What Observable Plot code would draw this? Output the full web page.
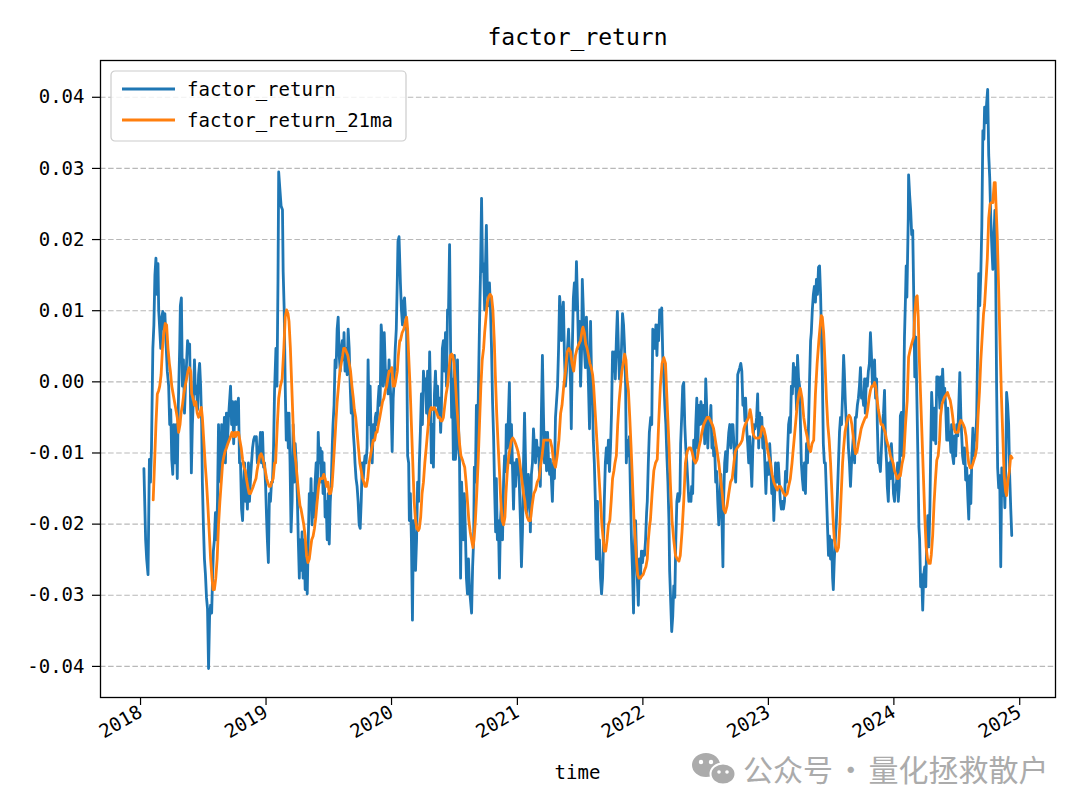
<!DOCTYPE html>
<html lang="en">
<head>
<meta charset="utf-8">
<title>factor_return</title>
<script src="https://cdn.jsdelivr.net/npm/d3@7"></script>
<script src="https://cdn.jsdelivr.net/npm/@observablehq/plot@0.6"></script>
<style>
  html, body { margin: 0; padding: 0; background: #ffffff; }
  #chart { width: 1080px; height: 810px; }
</style>
</head>
<body>
<div id="chart"></div>
<script>
// ---------- chart text ----------
const chartTitle = "factor_return";
const xAxisLabel = "time";
const seriesNames = ["factor_return", "factor_return_21ma"];
const seriesColors = ["#1f77b4", "#ff7f0e"];
const yTickValues = [-0.04, -0.03, -0.02, -0.01, 0, 0.01, 0.02, 0.03, 0.04];
const xTickYears = [2018, 2019, 2020, 2021, 2022, 2023, 2024, 2025];
const watermarkText = "公众号 · 量化拯救散户";

// ---------- data ----------
// day = days since 2018-01-01; values in basis points (1 bp = 0.0001)
const retDays = [
4,9,12,16,20,23,26,30,33,36,39,42,45,47,50,53,56,59,62,65,68,72,76,79,82,85,88,91,94,98,101,104,108,110,113,116,119,122,125,128,131,134,137,140,142,145,148,151,154,157,160,163,166,169,172,174,177,180,183,186,189,192,195,198,201,204,206,209,212,215,218,221,224,227,230,233,236,238,241,244,247,250,253,256,259,262,265,268,270,273,276,279,282,285,288,291,294,297,300,302,305,308,311,314,317,320,323,326,329,331,334,337,340,343,346,349,352,355,358,361,363,366,369,372,375,378,381,384,
388,391,394,396,399,403,407,409,412,415,418,421,424,426,429,432,435,438,441,444,447,450,453,456,458,461,464,467,470,473,476,479,482,485,488,490,493,496,499,502,505,508,511,514,517,520,522,525,528,531,534,537,540,543,546,549,552,554,557,560,563,566,569,572,575,578,581,584,586,589,592,595,598,601,604,607,610,613,616,618,621,624,627,630,633,636,639,642,645,647,650,653,656,659,662,665,668,671,674,677,679,682,685,688,691,694,697,700,703,706,709,711,714,717,720,723,726,729,732,735,738,741,743,746,
750,753,756,759,762,765,768,771,774,776,779,782,785,788,791,794,797,800,803,805,808,811,814,817,820,823,826,829,832,835,837,840,843,846,849,852,855,858,861,864,867,869,872,875,878,881,884,887,890,893,896,899,901,904,907,910,913,916,919,922,925,928,931,933,936,939,942,945,948,951,954,957,960,963,965,968,971,974,977,980,983,986,989,992,995,997,1000,1003,1006,1009,1012,1015,1018,1021,1024,1027,1029,1032,1035,1038,1041,1044,1047,1050,1053,1056,1058,1061,1064,1067,1070,1073,1076,1079,1082,1085,1088,1090,1093,1096,1099,1102,1105,1108,1111,
1117,1120,1122,1125,1128,1131,1134,1137,1140,1143,1146,1149,1152,1154,1157,1160,1163,1166,1169,1172,1175,1178,1181,1184,1186,1189,1192,1195,1198,1201,1204,1207,1210,1213,1216,1218,1221,1224,1227,1230,1233,1236,1239,1242,1245,1247,1250,1253,1256,1259,1262,1265,1268,1271,1274,1277,1279,1282,1285,1288,1291,1294,1297,1300,1303,1306,1309,1311,1314,1317,1320,1323,1326,1329,1332,1335,1338,1341,1343,1346,1349,1352,1355,1358,1361,1364,1367,1370,1373,1375,1378,1381,1384,1387,1390,1393,1396,1399,1402,1405,1407,1410,1413,1416,1419,1422,1425,1428,1431,1434,1437,1439,1442,1445,1448,1451,1454,1457,1460,1463,1466,1468,1471,1474,
1478,1481,1484,1487,1490,1493,1496,1499,1501,1504,1507,1510,1513,1516,1519,1522,1525,1528,1531,1533,1536,1539,1542,1545,1548,1551,1554,1557,1560,1563,1565,1568,1571,1574,1577,1580,1583,1586,1589,1592,1595,1597,1600,1603,1606,1609,1612,1615,1618,1621,1624,1627,1629,1632,1635,1638,1641,1644,1647,1650,1653,1656,1659,1661,1664,1667,1670,1673,1676,1679,1682,1685,1688,1690,1693,1696,1699,1702,1705,1708,1711,1714,1717,1720,1722,1725,1728,1731,1734,1737,1740,1743,1746,1749,1752,1754,1757,1760,1763,1766,1769,1772,1775,1778,1781,1784,1786,1789,1792,1795,1798,1801,1804,1807,1810,1813,1816,1818,1821,1824,1827,1830,1833,1836,1839,
1841,1844,1846,1849,1852,1855,1858,1861,1864,1867,1870,1873,1876,1879,1882,1884,1887,1890,1893,1896,1899,1902,1905,1908,1911,1913,1916,1919,1922,1925,1928,1931,1934,1937,1940,1943,1945,1948,1951,1954,1957,1960,1963,1966,1969,1972,1974,1977,1980,1983,1986,1989,1992,1995,1998,2001,2004,2007,2009,2012,2015,2018,2021,2024,2027,2030,2033,2036,2039,2041,2044,2047,2050,2053,2056,2059,2062,2065,2068,2071,2073,2076,2079,2082,2085,2088,2091,2094,2097,2100,2102,2105,2108,2111,2114,2117,2120,2123,2126,2129,2132,2135,2137,2140,2143,2146,2149,2152,2155,2158,2161,2164,2166,2169,2172,2175,2178,2181,2184,2187,2190,2193,2196,2198,2201,
2204,2207,2210,2213,2216,2219,2221,2223,2225,2227,2228,2231,2234,2237,2240,2243,2246,2249,2252,2255,2258,2260,2263,2266,2269,2272,2275,2278,2281,2284,2287,2290,2292,2295,2298,2301,2304,2307,2310,2313,2316,2319,2321,2324,2327,2330,2333,2336,2339,2342,2345,2348,2351,2353,2356,2359,2362,2365,2368,2371,2374,2377,2380,2383,2385,2388,2391,2394,2397,2400,2403,2406,2409,2412,2415,2417,2420,2423,2426,2429,2432,2435,2438,2441,2444,2447,2449,2452,2455,2458,2461,2464,2467,2470,2473,2476,2479,2481,2484,2487,2490,2493,2496,2499,2502,2505,2508,2511,2513,2516,2519,2522,2525,2528
];
const retBp = [
-122,-222,-249,-271,-109,-141,-93,47,80,150,174,123,166,101,74,47,91,99,74,96,58,15,-6,-60,-39,-109,-130,-60,-114,-60,-136,-33,47,107,118,-6,31,-44,-6,26,58,47,53,-44,-128,-60,-23,31,-17,-6,-39,10,26,-6,-60,-141,-201,-249,-271,-303,-319,-403,-330,-314,-325,-271,-238,-222,-184,-222,-168,-60,-130,-141,-60,-114,-87,-50,-114,-44,-87,-50,-28,-6,-60,-28,-87,-50,-28,-60,-33,-23,-114,-114,-179,-195,-141,-114,-168,-141,-179,-114,-168,-136,-114,-93,-82,-77,-82,-77,-114,-109,-93,-71,-114,-71,-120,-114,-147,-195,-222,-254,-157,-168,-141,-141,-93,-12,
47,-6,144,295,274,247,242,155,101,-6,-82,-44,-93,-44,-114,-211,-168,-60,-141,-87,-114,-157,-222,-276,-222,-265,-211,-276,-222,-292,-249,-298,-222,-157,-179,-136,-201,-157,-190,-141,-114,-163,-71,-114,-93,-141,-98,-157,-114,-190,-168,-222,-157,-228,-168,-141,-87,-60,-33,31,20,74,91,37,15,47,58,31,69,15,47,10,74,47,-6,-44,-23,-71,-93,-114,-136,-147,-168,-201,-206,-168,-114,-136,-114,-104,-114,-93,31,-60,-6,-87,-114,-60,-82,-50,-44,-60,-28,-6,-33,80,58,-6,69,20,-6,15,-17,31,-1,-33,-98,-23,4,47,74,144,198,204,
139,101,80,112,118,91,74,-104,-114,-195,-157,-222,-335,-195,-238,-265,-222,-141,-168,-114,-71,-17,-60,15,-6,4,-44,15,-60,42,-6,-114,-60,-120,-17,15,-33,-6,-50,-23,-71,-44,47,58,15,69,-6,101,101,193,47,-50,4,-109,37,-109,-93,31,-60,-114,-276,-141,-195,-222,-157,-211,-276,-298,-249,-292,-308,-325,-260,-222,-120,-141,-33,-104,-6,80,155,258,155,166,101,155,220,128,107,139,101,47,-28,-77,-152,-211,-136,-222,-195,-276,-195,-168,-222,-141,-104,-126,-60,-93,-50,-1,-114,-60,-120,-179,-114,-147,-109,-130,-109,-147,-195,-260,-211,-114,-44,
-184,-168,-130,-147,-211,-130,-114,-66,-93,-114,-82,-104,-93,-125,-147,-44,37,-44,-114,-71,-125,-71,-114,-130,-109,-136,-168,-114,-136,-50,-28,-6,47,120,101,58,80,112,37,-6,15,47,74,37,-6,-66,47,118,139,101,169,112,47,85,-6,47,144,101,47,20,91,47,-6,-66,85,4,-33,-82,-114,-168,-249,-168,-249,-222,-276,-298,-276,-222,-168,-114,-93,-114,-82,-126,-93,-44,42,15,42,4,58,99,47,4,20,47,96,80,47,-6,-114,-82,-104,-77,-157,-222,-265,-325,-222,-195,-254,-276,-314,-249,-276,-238,-254,-238,-244,-222,-184,-168,-114,-71,
-50,-60,74,72,47,80,37,80,58,101,85,104,37,4,-33,-60,-104,-141,-195,-265,-308,-351,-330,-287,-303,-222,-168,-157,-168,-157,-87,-50,-6,-1,-60,-93,-114,-141,-168,-157,-168,-147,-157,-82,-114,-60,-23,-93,-33,-60,-28,-39,-60,-33,-87,4,-39,-93,-50,-60,-33,-93,-77,-104,-93,-141,-126,-168,-201,-168,-130,-190,-260,-168,-114,-98,-126,-93,-71,-60,-93,-60,-60,-87,-114,-141,-93,10,15,20,26,15,-33,-23,-55,-23,-66,-87,-114,-77,-114,-147,-93,-60,-66,-60,-50,-17,-93,-44,-77,-50,-93,-77,-114,-157,-114,-114,-130,-87,-114,-157,-136,-195,-152,
-114,-126,-141,-114,-141,-168,-179,-168,-179,-168,-126,-141,-98,-60,-50,-71,-6,-17,26,-6,20,-39,37,4,-6,-50,-114,-136,-152,-114,-157,-87,-114,-60,4,58,69,101,123,134,112,144,123,161,163,123,80,15,-87,-114,-114,-157,-201,-244,-217,-249,-222,-276,-292,-249,-222,-195,-157,-114,-71,-50,-60,-17,37,15,-28,-60,-50,-93,-114,-147,-114,-93,-71,-114,-50,-50,-33,-23,-6,20,-23,-17,-33,4,-44,4,-6,15,26,69,37,-6,4,31,-23,4,-60,-114,-114,-126,-93,-60,-44,-12,-87,-114,-147,-168,-114,-136,-87,-114,-157,-168,-147,-141,-114,-168,-147,
-48,-43,-104,-48,63,119,163,119,174,230,291,263,241,207,213,119,7,63,-21,-104,-204,-221,-288,-271,-321,-271,-260,-288,-216,-188,-232,-177,-104,-15,-48,-82,-37,-87,7,7,-4,-37,7,-26,18,-21,-9,-37,-82,-37,-82,-71,-99,-60,-104,-115,-76,-104,-60,-76,-32,13,-48,-82,-104,-115,-93,-138,-121,-160,-193,-132,-171,-104,-65,-104,-76,-82,-48,52,152,107,152,219,353,341,386,364,392,411,319,286,230,191,158,202,241,174,-9,-121,-149,-132,-260,-121,-160,-132,-177,-104,-15,-32,-60,-132,-177,-216
];
const maDays = [
31,35,39,43,47,50,54,58,62,66,70,74,78,81,85,89,93,97,101,105,109,112,116,120,124,128,132,136,140,143,147,151,155,159,163,167,171,174,178,182,186,190,194,198,202,205,209,213,217,221,225,229,233,237,240,244,248,252,256,260,264,268,271,275,279,283,287,291,295,299,302,306,310,314,318,322,326,330,333,337,341,345,349,353,357,361,364,368,372,376,380,384,
387,392,396,401,406,411,415,419,423,426,430,434,438,442,446,450,454,458,461,465,469,473,477,481,485,489,492,496,500,504,508,512,516,520,523,527,531,535,539,543,547,551,554,558,562,566,570,574,578,582,585,589,593,597,601,605,609,613,616,620,624,628,632,636,640,644,647,651,655,659,663,667,671,675,679,682,686,690,694,698,702,706,710,713,717,721,725,729,733,737,741,744,748,
750,755,760,765,768,771,774,778,782,786,790,794,798,802,805,809,813,817,821,825,829,833,837,840,844,848,852,856,860,864,868,871,875,879,883,887,891,895,899,902,906,910,914,918,922,926,930,933,937,941,945,949,953,957,961,964,968,972,976,980,984,988,992,995,999,1003,1007,1011,1015,1019,1023,1026,1030,1034,1038,1042,1046,1050,1054,1057,1061,1065,1069,1073,1077,1081,1085,1089,1092,1096,1100,1104,1108,1112,
1114,1119,1123,1128,1133,1138,1143,1148,1153,1157,1162,1167,1172,1177,1182,1186,1191,1196,1201,1206,1211,1216,1220,1225,1230,1235,1240,1245,1249,1254,1259,1264,1269,1274,1279,1281,1285,1289,1293,1297,1301,1305,1309,1312,1316,1320,1324,1328,1332,1336,1340,1343,1347,1351,1355,1359,1363,1367,1371,1374,1378,1382,1386,1390,1394,1398,1402,1406,1409,1413,1417,1421,1425,1429,1433,1437,1440,1444,1448,1452,1456,1460,1464,1468,1471,1475,
1477,1482,1487,1492,1497,1501,1506,1511,1516,1521,1526,1531,1535,1540,1545,1550,1555,1560,1564,1569,1574,1579,1584,1589,1594,1598,1603,1608,1613,1618,1623,1627,1632,1637,1642,1647,1652,1657,1661,1666,1671,1676,1681,1686,1690,1695,1700,1705,1710,1715,1720,1724,1729,1734,1739,1744,1749,1753,1758,1763,1767,1771,1775,1779,1783,1787,1792,1797,1802,1807,1812,1817,1821,1826,1831,1836,1841,
1846,1850,1855,1860,1865,1870,1875,1879,1884,1889,1894,1899,1904,1909,1913,1918,1923,1928,1933,1938,1943,1947,1952,1957,1962,1967,1972,1974,1977,1981,1985,1989,1993,1997,2001,2005,2008,2012,2016,2020,2024,2028,2032,2036,2039,2043,2047,2051,2055,2059,2063,2067,2071,2074,2078,2082,2086,2090,2094,2098,2102,2105,2109,2113,2117,2121,2125,2129,2132,2136,2140,2144,2148,2152,2156,2160,2164,2167,2171,2175,2179,2183,2187,2191,2195,2198,2202,
2204,2209,2214,2219,2224,2228,2233,2238,2243,2246,2250,2253,2256,2259,2263,2267,2271,2275,2279,2283,2287,2291,2294,2298,2302,2306,2310,2314,2318,2321,2325,2329,2333,2337,2341,2345,2349,2353,2356,2360,2364,2368,2372,2376,2380,2384,2387,2391,2395,2399,2403,2407,2411,2415,2418,2422,2426,2430,2434,2438,2442,2446,2449,2453,2457,2461,2465,2469,2473,2477,2480,2482,2486,2490,2494,2498,2502,2506,2510,2513,2517,2521,2525,2529
];
const maBp = [
-166,-114,-60,-17,-12,-6,10,47,69,82,80,47,26,15,-6,-17,-28,-39,-50,-71,-60,-44,-33,-17,-6,4,15,20,15,-17,-23,-33,-28,-44,-50,-44,-36,-50,-82,-114,-141,-174,-211,-249,-276,-292,-292,-276,-249,-201,-168,-141,-114,-104,-98,-93,-87,-82,-77,-71,-77,-71,-77,-71,-71,-82,-93,-109,-120,-125,-136,-147,-157,-157,-152,-147,-141,-136,-125,-114,-104,-101,-106,-114,-125,-136,-141,-147,-147,-141,-136,-114,
-114,-60,-23,-6,4,47,91,101,96,85,47,-6,-60,-98,-114,-136,-157,-174,-179,-190,-201,-217,-244,-254,-249,-233,-222,-217,-206,-190,-168,-147,-136,-136,-136,-130,-136,-147,-141,-157,-157,-147,-125,-93,-60,-28,-6,15,26,37,47,47,42,37,26,15,-6,-23,-39,-50,-71,-93,-114,-125,-136,-141,-147,-147,-136,-114,-104,-93,-82,-82,-71,-71,-60,-50,-39,-28,-23,-12,-6,4,15,15,20,-6,-6,4,15,37,58,
58,69,74,85,91,74,37,-6,-60,-114,-168,-195,-206,-209,-206,-190,-157,-141,-114,-93,-71,-50,-39,-36,-39,-36,-39,-44,-50,-50,-55,-55,-50,-33,-17,-6,15,37,39,37,26,-1,-33,-60,-87,-104,-109,-114,-120,-141,-168,-195,-211,-222,-233,-222,-195,-157,-114,-60,-6,31,47,69,91,112,120,123,120,101,58,10,-44,-87,-125,-168,-195,-201,-190,-157,-125,-104,-93,-82,-79,-82,-87,-93,-98,-109,-125,-141,-157,-168,
-179,-190,-195,-195,-174,-157,-152,-141,-136,-120,-104,-82,-82,-82,-82,-82,-93,-114,-120,-104,-82,-44,-33,-6,15,42,47,42,26,15,37,47,53,58,74,77,69,53,47,37,26,20,10,-6,-39,-71,-104,-136,-168,-201,-222,-238,-238,-222,-201,-195,-168,-136,-125,-114,-104,-60,-28,-6,15,26,39,31,4,-12,-50,-93,-141,-190,-222,-254,-271,-276,-276,-273,-271,-265,-260,-249,-222,-201,
-195,-157,-125,-114,-109,-60,-6,26,34,26,-33,-87,-141,-195,-222,-244,-249,-252,-244,-211,-168,-114,-98,-93,-93,-98,-109,-114,-109,-93,-82,-71,-60,-55,-50,-50,-55,-60,-66,-82,-98,-114,-136,-157,-179,-184,-174,-157,-141,-136,-114,-98,-93,-90,-87,-82,-66,-60,-55,-50,-39,-50,-71,-77,-79,-79,-79,-77,-63,-66,-77,-93,-104,-114,-130,-141,-147,
-152,-147,-147,-152,-157,-160,-157,-147,-136,-114,-87,-60,-33,-17,-9,-23,-50,-66,-77,-93,-98,-87,-82,-17,26,58,85,93,91,69,26,-23,-60,-82,-114,-157,-190,-222,-233,-238,-233,-201,-157,-114,-93,-71,-60,-50,-47,-50,-60,-77,-93,-101,-98,-87,-77,-66,-60,-55,-50,-50,-39,-23,-12,-6,-6,-1,-6,-23,-39,-50,-60,-60,-66,-71,-82,-87,-93,-104,-109,-114,-125,-130,-136,-136,-130,
-132,-115,-104,-60,-26,35,46,55,63,96,119,121,91,35,-21,-76,-132,-188,-232,-249,-255,-255,-243,-216,-171,-138,-110,-104,-82,-48,-32,-26,-21,-18,-15,-21,-26,-37,-48,-65,-71,-71,-71,-60,-54,-57,-60,-65,-76,-99,-115,-121,-121,-115,-110,-104,-93,-48,-15,30,63,96,108,141,174,230,250,252,252,280,280,252,202,130,52,-21,-76,-132,-154,-160,-138,-126,-104,-107
];

(function () {
  // ---------- build rows ----------
  if (retDays.length !== retBp.length) console.warn("ret length mismatch", retDays.length, retBp.length);
  if (maDays.length !== maBp.length) console.warn("ma length mismatch", maDays.length, maBp.length);
  const T0 = Date.UTC(2018, 0, 1), DAY = 864e5;
  const toRows = (days, bp) => days.slice(0, Math.min(days.length, bp.length))
    .map((d, i) => ({date: new Date(T0 + d * DAY), value: bp[i] / 1e4}));
  const retRows = toRows(retDays, retBp);
  const maRows = toRows(maDays, maBp);
  const allRows = retRows.concat(maRows);
  const pad5 = ([a, b]) => { const r = b - a; return [a - 0.05 * r, b + 0.05 * r]; };
  const xExt = pad5(d3.extent(allRows, d => +d.date));
  const xDomain = [new Date(xExt[0]), new Date(xExt[1])];
  const yDomain = pad5(d3.extent(allRows, d => d.value));
  const yearTicks = xTickYears.map(y => new Date(Date.UTC(y, 0, 1)));

  const FONT = "'DejaVu Sans Mono', 'Liberation Mono', monospace";

  const chart = Plot.plot({
    width: 1080,
    height: 810,
    marginLeft: 100,
    marginRight: 25,
    marginTop: 60,
    marginBottom: 113,
    style: {fontFamily: FONT, fontSize: "19px", color: "#000", background: "#fff", overflow: "visible"},
    x: {type: "utc", domain: xDomain},
    y: {type: "linear", domain: yDomain},
    marks: [
      Plot.gridY(yTickValues, {stroke: "#b0b0b0", strokeOpacity: 0.9, strokeWidth: 1.1, strokeDasharray: "5.5,2.6"}),
      Plot.line(retRows, {x: "date", y: "value", stroke: seriesColors[0], strokeWidth: 2.8, strokeLinejoin: "round"}),
      Plot.line(maRows, {x: "date", y: "value", stroke: seriesColors[1], strokeWidth: 2.8, strokeLinejoin: "round"}),
      Plot.frame({stroke: "#000", strokeWidth: 1.3}),
      Plot.axisY(yTickValues, {tickSize: 8, tickPadding: 8, strokeWidth: 1.2, tickFormat: d => d.toFixed(2), label: null, fontSize: 19}),
      Plot.axisX(yearTicks, {tickSize: 8, tickPadding: 5, tickRotate: -30, textAnchor: "end", dx: -2, strokeWidth: 1.2, tickFormat: d3.utcFormat("%Y"), label: null, fontSize: 19})
    ]
  });
  document.getElementById("chart").appendChild(chart);

  // ---------- title, axis label, legend, watermark ----------
  const svg = d3.select(chart);
  const xr = chart.scale("x").range;
  const yr = chart.scale("y").range;
  const cx = (xr[0] + xr[1]) / 2;
  const topY = Math.min(yr[0], yr[1]), bottomY = Math.max(yr[0], yr[1]);

  svg.append("text")
    .attr("x", cx).attr("y", topY - 15)
    .attr("text-anchor", "middle")
    .style("font-family", FONT).style("font-size", "23px").attr("fill", "#000")
    .text(chartTitle);

  svg.append("text")
    .attr("x", cx).attr("y", bottomY + 82)
    .attr("text-anchor", "middle")
    .style("font-family", FONT).style("font-size", "19px").attr("fill", "#000")
    .text(xAxisLabel);

  const lg = svg.append("g").attr("transform", `translate(${xr[0] + 11},${topY + 11})`);
  lg.append("rect").attr("width", 295).attr("height", 70).attr("rx", 4)
    .attr("fill", "#fff").attr("fill-opacity", 0.8).attr("stroke", "#cccccc").attr("stroke-width", 1.2);
  seriesNames.forEach((name, i) => {
    const yy = 18 + i * 31;
    lg.append("line").attr("x1", 11).attr("x2", 64).attr("y1", yy).attr("y2", yy)
      .attr("stroke", seriesColors[i]).attr("stroke-width", 2.8);
    lg.append("text").attr("x", 76).attr("y", yy).attr("dominant-baseline", "central")
      .attr("text-anchor", "start")
      .style("font-family", FONT).style("font-size", "19px").attr("fill", "#000").text(name);
  });

  // watermark
  const wm = svg.append("g").attr("fill", "#ababab");
  const icon = wm.append("g").attr("transform", "translate(692,753)");
  icon.append("ellipse").attr("cx", 14).attr("cy", 12).attr("rx", 14).attr("ry", 12);
  icon.append("ellipse").attr("cx", 31).attr("cy", 21).attr("rx", 12.5).attr("ry", 10.5)
    .attr("stroke", "#fff").attr("stroke-width", 2);
  [[9, 9, 2.2], [19, 9, 2.2], [27, 19, 1.8], [35, 19, 1.8]].forEach(([a, b, r]) =>
    icon.append("circle").attr("cx", a).attr("cy", b).attr("r", r).attr("fill", "#fff"));
  wm.append("text").attr("x", 743).attr("y", 781).attr("text-anchor", "start")
    .style("font-family", "'Noto Sans CJK SC', sans-serif").style("font-size", "30px")
    .style("word-spacing", "-4px")
    .text(watermarkText);
})();
</script>
</body>
</html>
